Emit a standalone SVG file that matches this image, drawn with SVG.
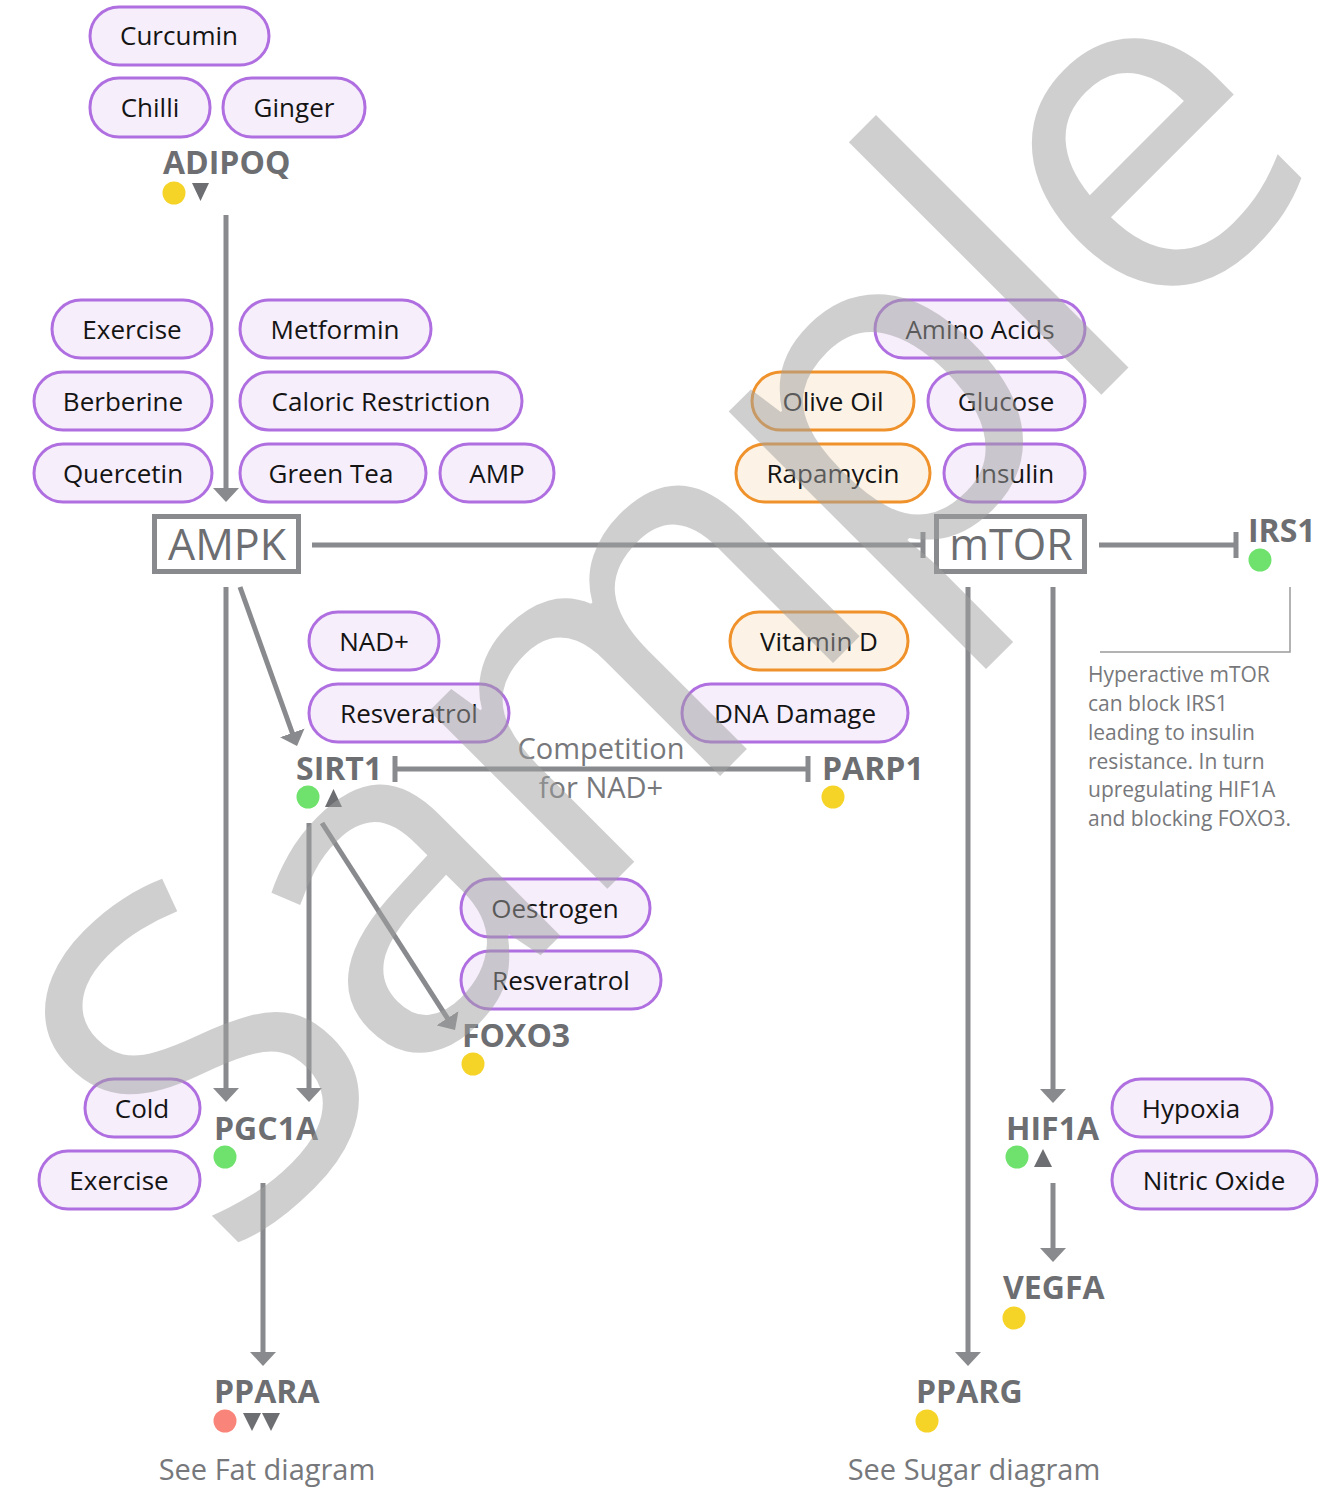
<svg xmlns="http://www.w3.org/2000/svg" width="1327" height="1490" viewBox="0 0 1327 1490">
<defs>
<style>
.pill rect{fill:#f6eefb;stroke:#b06fe0;stroke-width:3}
.pill.o rect{fill:#fcf3e6;stroke:#f0922b}
.pill text{font-family:'Open Sans','Liberation Sans',sans-serif;font-size:26px;fill:#141414;text-anchor:middle}
.gene text{font-family:'Open Sans','Liberation Sans',sans-serif;font-weight:bold;font-size:32px;fill:#6d6e71}
.box rect{fill:#fff;stroke:#898a8d;stroke-width:5}
.box text{font-family:'Open Sans','Liberation Sans',sans-serif;font-size:43px;fill:#6d6e71;text-anchor:middle}
.conn line,.conn path{stroke:#898a8d;stroke-width:5;fill:none}
.note{font-family:'Open Sans','Liberation Sans',sans-serif;font-size:21px;fill:#77787b}
.lbl{font-family:'Open Sans','Liberation Sans',sans-serif;font-size:29px;fill:#77787b;text-anchor:middle}
.g{fill:#6ee26c}.y{fill:#f5d327}.r{fill:#f98479}.tri{fill:#6d6e71}
</style>
<marker id="ah" markerUnits="userSpaceOnUse" viewBox="0 0 14 26" markerWidth="14" markerHeight="26" refX="6" refY="13" orient="auto">
<path d="M0,0 L14,13 L0,26 Z" fill="#898a8d"/>
</marker>
</defs>
<rect width="1327" height="1490" fill="#fff"/>

<g id="connectors" class="conn">
<line x1="226" y1="215" x2="226" y2="494" marker-end="url(#ah)"/>
<line x1="312" y1="545" x2="923" y2="545"/>
<line x1="923" y1="532" x2="923" y2="558"/>
<line x1="1099" y1="545" x2="1236" y2="545"/>
<line x1="1236" y1="532" x2="1236" y2="558"/>
<line x1="226" y1="587" x2="226" y2="1094" marker-end="url(#ah)"/>
<line x1="240" y1="587" x2="294.3" y2="738.5" marker-end="url(#ah)"/>
<line x1="395" y1="769" x2="808" y2="769"/>
<line x1="395" y1="756" x2="395" y2="782"/>
<line x1="808" y1="756" x2="808" y2="782"/>
<line x1="309" y1="823" x2="309" y2="1094" marker-end="url(#ah)"/>
<line x1="322" y1="823" x2="450.7" y2="1023.3" marker-end="url(#ah)"/>
<line x1="263" y1="1183" x2="263" y2="1358" marker-end="url(#ah)"/>
<line x1="968" y1="587" x2="968" y2="1358" marker-end="url(#ah)"/>
<line x1="1053" y1="587" x2="1053" y2="1095" marker-end="url(#ah)"/>
<line x1="1053" y1="1183" x2="1053" y2="1254" marker-end="url(#ah)"/>
</g>

<g id="note">
<path d="M1290,587 V652 H1100" fill="none" stroke="#9a9a9c" stroke-width="1.5"/>
<text class="note" x="1088" y="682">Hyperactive mTOR</text>
<text class="note" x="1088" y="711">can block IRS1</text>
<text class="note" x="1088" y="740">leading to insulin</text>
<text class="note" x="1088" y="769">resistance. In turn</text>
<text class="note" x="1088" y="797">upregulating HIF1A</text>
<text class="note" x="1088" y="826">and blocking FOXO3.</text>
</g>

<g id="competition">
<text class="lbl" x="601" y="759">Competition</text>
<text class="lbl" x="601" y="798">for NAD+</text>
</g>

<g id="p-curcumin" class="pill"><rect x="90" y="7" width="179" height="58" rx="29"/><text x="179" y="45">Curcumin</text></g>
<g id="p-chilli" class="pill"><rect x="90" y="78" width="120" height="59" rx="29"/><text x="150" y="117">Chilli</text></g>
<g id="p-ginger" class="pill"><rect x="223" y="78" width="142" height="59" rx="29"/><text x="294" y="117">Ginger</text></g>

<g id="p-exercise" class="pill"><rect x="52" y="300" width="160" height="58" rx="29"/><text x="132" y="339">Exercise</text></g>
<g id="p-metformin" class="pill"><rect x="240" y="300" width="191" height="58" rx="29"/><text x="335" y="339">Metformin</text></g>
<g id="p-berberine" class="pill"><rect x="34" y="372" width="178" height="58" rx="29"/><text x="123" y="411">Berberine</text></g>
<g id="p-caloric" class="pill"><rect x="240" y="372" width="282" height="58" rx="29"/><text x="381" y="411">Caloric Restriction</text></g>
<g id="p-quercetin" class="pill"><rect x="34" y="444" width="178" height="58" rx="29"/><text x="123" y="483">Quercetin</text></g>
<g id="p-greentea" class="pill"><rect x="240" y="444" width="186" height="58" rx="29"/><text x="331" y="483">Green Tea</text></g>
<g id="p-amp" class="pill"><rect x="440" y="444" width="114" height="58" rx="29"/><text x="497" y="483">AMP</text></g>

<g id="p-aminoacids" class="pill"><rect x="875" y="300" width="210" height="58" rx="29"/><text x="980" y="339">Amino Acids</text></g>
<g id="p-oliveoil" class="pill o"><rect x="752" y="372" width="162" height="58" rx="29"/><text x="833" y="411">Olive Oil</text></g>
<g id="p-glucose" class="pill"><rect x="928" y="372" width="157" height="58" rx="29"/><text x="1006" y="411">Glucose</text></g>
<g id="p-rapamycin" class="pill o"><rect x="736" y="444" width="194" height="58" rx="29"/><text x="833" y="483">Rapamycin</text></g>
<g id="p-insulin" class="pill"><rect x="944" y="444" width="141" height="58" rx="29"/><text x="1014" y="483">Insulin</text></g>

<g id="p-nad" class="pill"><rect x="309" y="612" width="130" height="58" rx="29"/><text x="374" y="651">NAD+</text></g>
<g id="p-resveratrol1" class="pill"><rect x="309" y="684" width="200" height="58" rx="29"/><text x="409" y="723">Resveratrol</text></g>
<g id="p-vitamind" class="pill o"><rect x="730" y="612" width="178" height="58" rx="29"/><text x="819" y="651">Vitamin D</text></g>
<g id="p-dnadamage" class="pill"><rect x="682" y="684" width="226" height="58" rx="29"/><text x="795" y="723">DNA Damage</text></g>

<g id="p-oestrogen" class="pill"><rect x="461" y="879" width="189" height="58" rx="29"/><text x="555" y="918">Oestrogen</text></g>
<g id="p-resveratrol2" class="pill"><rect x="461" y="951" width="200" height="58" rx="29"/><text x="561" y="990">Resveratrol</text></g>

<g id="p-cold" class="pill"><rect x="85" y="1079" width="115" height="58" rx="29"/><text x="142" y="1118">Cold</text></g>
<g id="p-exercise2" class="pill"><rect x="39" y="1151" width="161" height="58" rx="29"/><text x="119" y="1190">Exercise</text></g>
<g id="p-hypoxia" class="pill"><rect x="1112" y="1079" width="160" height="58" rx="29"/><text x="1191" y="1118">Hypoxia</text></g>
<g id="p-nitricoxide" class="pill"><rect x="1112" y="1151" width="205" height="58" rx="29"/><text x="1214" y="1190">Nitric Oxide</text></g>

<g id="ampk" class="box"><rect x="154.5" y="516.5" width="144" height="55"/><text x="227" y="560">AMPK</text></g>
<g id="mtor" class="box"><rect x="936.5" y="516.5" width="148" height="55"/><text x="1011" y="560">mTOR</text></g>

<g id="adipoq" class="gene"><text x="163" y="174">ADIPOQ</text><circle class="y" cx="174" cy="193" r="11.5"/><path class="tri" d="M192,183 H209 L200.5,201 Z"/></g>
<g id="irs1" class="gene"><text x="1248" y="542">IRS1</text><circle class="g" cx="1260" cy="560" r="11.5"/></g>
<g id="sirt1" class="gene"><text x="296" y="780">SIRT1</text><circle class="g" cx="308" cy="797" r="11.5"/><path class="tri" d="M325,807 H342 L333.5,789 Z"/></g>
<g id="parp1" class="gene"><text x="822" y="780">PARP1</text><circle class="y" cx="833" cy="797" r="11.5"/></g>
<g id="foxo3" class="gene"><text x="462" y="1047">FOXO3</text><circle class="y" cx="473" cy="1064" r="11.5"/></g>
<g id="pgc1a" class="gene"><text x="214" y="1140">PGC1A</text><circle class="g" cx="225" cy="1157" r="11.5"/></g>
<g id="ppara" class="gene"><text x="214" y="1403">PPARA</text><circle class="r" cx="225" cy="1421" r="11.5"/><path class="tri" d="M243,1413 H261 L252,1431 Z M262,1413 H280 L271,1431 Z"/></g>
<g id="hif1a" class="gene"><text x="1006" y="1140">HIF1A</text><circle class="g" cx="1017" cy="1157" r="11.5"/><path class="tri" d="M1034,1167 H1052 L1043,1149 Z"/></g>
<g id="vegfa" class="gene"><text x="1003" y="1299">VEGFA</text><circle class="y" cx="1014" cy="1318" r="11.5"/></g>
<g id="pparg" class="gene"><text x="916" y="1403">PPARG</text><circle class="y" cx="927" cy="1421" r="11.5"/></g>

<g id="refs">
<text class="lbl" x="267" y="1480">See Fat diagram</text>
<text class="lbl" x="974" y="1480">See Sugar diagram</text>
</g>

<g id="watermark">
<text transform="translate(229,1267) rotate(-45)" font-family="'Open Sans','Liberation Sans',sans-serif" font-size="470" font-weight="500" letter-spacing="-12" fill="#a0a0a0" opacity="0.5">Sample</text>
</g>
</svg>
